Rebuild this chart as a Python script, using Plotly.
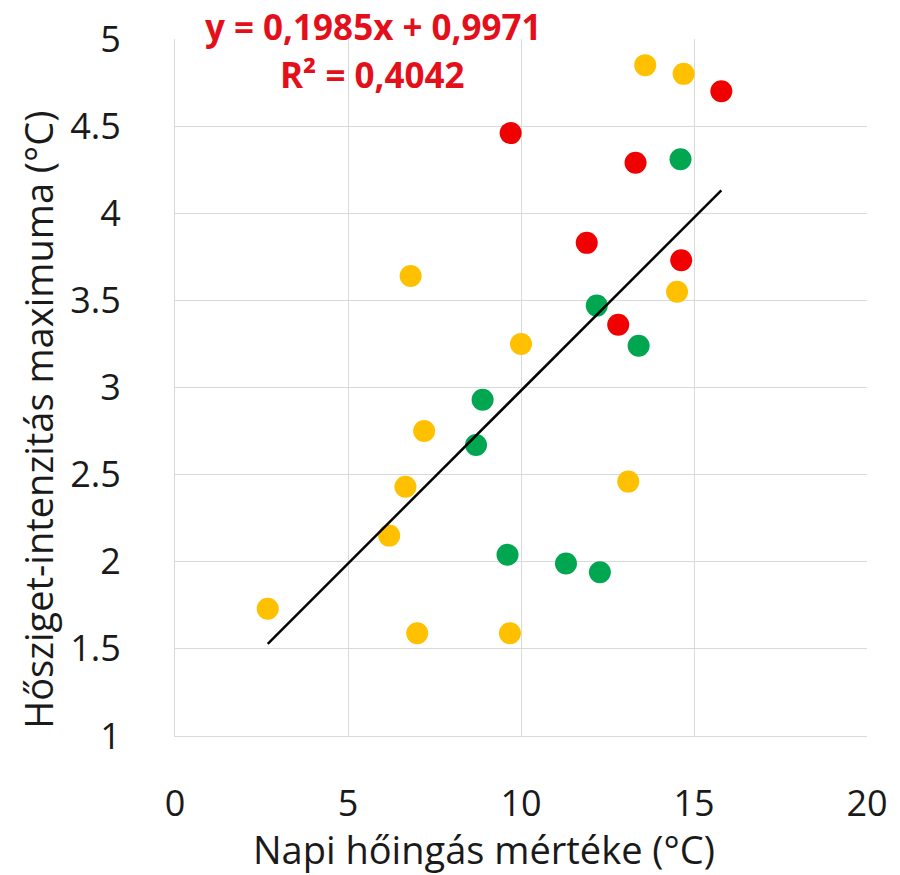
import plotly.graph_objects as go

# Data (x: Napi hőingás mértéke, y: Hősziget-intenzitás maximuma)
yellow_x = [13.59, 14.70, 14.51, 10.00, 6.81, 7.20, 6.66, 6.19, 2.68, 7.00, 13.10, 9.68]
yellow_y = [4.85, 4.80, 3.55, 3.25, 3.64, 2.75, 2.43, 2.15, 1.73, 1.59, 2.46, 1.59]

red_x = [15.79, 9.70, 13.31, 11.90, 14.63, 12.81]
red_y = [4.70, 4.46, 4.29, 3.83, 3.73, 3.36]

green_x = [14.61, 12.19, 13.40, 8.89, 8.70, 9.61, 11.30, 12.28]
green_y = [4.31, 3.47, 3.24, 2.93, 2.67, 2.04, 1.99, 1.94]

slope = 0.1985
intercept = 0.9971
r_squared = 0.4042

x_ticks = [0, 5, 10, 15, 20]
y_ticks = [1, 1.5, 2, 2.5, 3, 3.5, 4, 4.5, 5]

all_x = yellow_x + red_x + green_x
trend_x = [min(all_x), max(all_x)]
trend_y = [slope * v + intercept for v in trend_x]

FONT = "Open Sans"
TXT = "#1a1a1a"
fig = go.Figure()
for xs, ys, col in [(yellow_x, yellow_y, "#FFC000"),
                    (red_x, red_y, "#F00000"),
                    (green_x, green_y, "#00A650")]:
    fig.add_trace(go.Scatter(x=xs, y=ys, mode="markers",
                             marker=dict(color=col, size=22, line=dict(width=0)),
                             showlegend=False))
fig.add_trace(go.Scatter(x=trend_x, y=trend_y, mode="lines",
                         line=dict(color="black", width=2.5), showlegend=False))

grid = "#D9D9D9"
fig.update_layout(
    width=900, height=875,
    margin=dict(l=175, r=27, t=39, b=139),
    plot_bgcolor="white", paper_bgcolor="white",
    font=dict(family=FONT, color=TXT),
    xaxis=dict(range=[0, 20], tickvals=x_ticks, showgrid=True, gridcolor=grid, gridwidth=1,
               zeroline=False, showline=True, linecolor=grid, mirror=False,
               tickfont=dict(size=36, family=FONT, color=TXT), ticks="",
               ticklabelstandoff=36),
    yaxis=dict(range=[1, 5], tickvals=y_ticks, showgrid=True, gridcolor=grid, gridwidth=1,
               zeroline=False, showline=True, linecolor=grid,
               tickfont=dict(size=36, family=FONT, color=TXT), ticks="",
               ticklabelstandoff=46),
    annotations=[
        dict(text="Napi hőingás mértéke (°C)", xref="paper", yref="paper",
             x=0.446, y=-0.162, xanchor="center", yanchor="middle", showarrow=False,
             font=dict(size=38, family=FONT, color=TXT)),
        dict(text="Hősziget-intenzitás maximuma (°C)", xref="paper", yref="paper",
             x=-0.198, y=0.4536, xanchor="center", yanchor="middle", showarrow=False,
             textangle=-90, font=dict(size=38, family=FONT, color=TXT)),
        dict(text="y = 0,1985x + 0,9971", xref="paper", yref="paper",
             x=0.287, y=1.018, xanchor="center", yanchor="middle", showarrow=False,
             font=dict(size=35, family=FONT, color="#E3101B", weight="bold")),
        dict(text="R² = 0,4042", xref="paper", yref="paper",
             x=0.286, y=0.949, xanchor="center", yanchor="middle", showarrow=False,
             font=dict(size=35, family=FONT, color="#E3101B", weight="bold")),
    ],
)
fig.write_html("out.html", config={"displayModeBar": False},
               post_script="document.body.style.margin='0';document.body.style.overflow='hidden';")
